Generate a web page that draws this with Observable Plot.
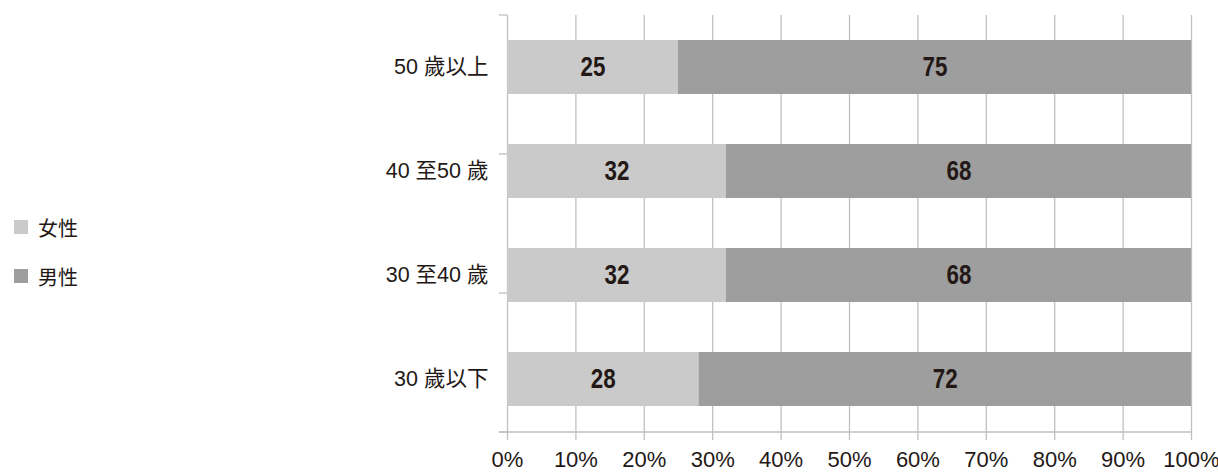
<!DOCTYPE html>
<html>
<head>
<meta charset="utf-8">
<script src="https://cdn.jsdelivr.net/npm/d3@7"></script>
<script src="https://cdn.jsdelivr.net/npm/@observablehq/plot@0.6"></script>
<style>
  html, body { margin: 0; padding: 0; background: #fff; }
  #wrap { position: relative; width: 1218px; height: 472px; }
  #legend { position: absolute; left: 14px; top: 213px; font-family: "Noto Sans CJK TC", sans-serif; font-size: 20px; color: #231815; }
  .item { display: flex; align-items: center; height: 28px; margin-bottom: 21px; }
  .sw { width: 14px; height: 14px; margin-right: 10px; }
</style>
</head>
<body>
<div id="wrap">
  <div id="legend"></div>
</div>
<script>
const ages = ["50 歲以上", "40 至50 歲", "30 至40 歲", "30 歲以下"];
const female = [25, 32, 32, 28];
const male = [75, 68, 68, 72];
const seriesNames = ["女性", "男性"];
const seriesColors = ["#c9cac9", "#9d9e9d"];
const xTicks = [0, 10, 20, 30, 40, 50, 60, 70, 80, 90, 100];

const rows = [];
ages.forEach((a, i) => {
  rows.push({age: a, sex: seriesNames[0], value: female[i]});
  rows.push({age: a, sex: seriesNames[1], value: male[i]});
});

const gridColor = "#c0c0c0";
const textColor = "#231815";
const mTop = 15, mBottom = 40, H = 472;

const plot = Plot.plot({
  width: 1218,
  height: H,
  marginLeft: 507,
  marginRight: 27,
  marginTop: mTop,
  marginBottom: mBottom,
  style: {fontFamily: "'Liberation Sans', 'Noto Sans CJK TC', sans-serif", color: textColor, background: "#fff", overflow: "visible"},
  x: {domain: [0, 100], ticks: xTicks, tickFormat: d => d + "%", label: null},
  y: {domain: ages, paddingInner: 0.48, paddingOuter: 0.24, label: null},
  color: {domain: seriesNames, range: seriesColors},
  marks: [
    Plot.ruleX(xTicks, {stroke: gridColor, strokeWidth: 1.3}),
    Plot.barX(rows, {x: "value", y: "age", fill: "sex", order: seriesNames}),
    Plot.text(rows, Plot.stackX({
      x: "value", y: "age", z: "sex", order: seriesNames, text: d => String(d.value),
      fill: textColor, fontSize: 28, fontWeight: "bold", className: "vlab",
      fontFamily: "'Liberation Sans', sans-serif"
    })),
    Plot.axisX({ticks: xTicks, tickFormat: d => d + "%", tickSize: 8, tickPadding: 11, fontSize: 22, stroke: gridColor, strokeWidth: 1.3, label: null}),
    Plot.axisY({tickSize: 0, tickPadding: 19, fontSize: 21.5, fontFamily: "'Liberation Sans', 'Noto Sans CJK TC', sans-serif", label: null})
  ]
});

document.getElementById("wrap").appendChild(plot);

const svg = d3.select(plot);
// condense the bold value labels horizontally
svg.selectAll(".vlab text").each(function() {
  const t = d3.select(this);
  const x = +t.attr("x") || 0, y = +t.attr("y") || 0;
  const prev = t.attr("transform") || "";
  t.attr("transform", `${prev} translate(${x},${y}) scale(0.8,1) translate(${-x},${-y})`);
});

// axis frame lines (baseline, y-axis small ticks)
const xs = plot.scale("x");
const x0 = xs.apply(0), x100 = xs.apply(100);
const yTop = mTop, yBot = H - mBottom;
const g = svg.append("g").attr("stroke", gridColor).attr("stroke-width", 1.3);
g.append("line").attr("x1", x0 - 8).attr("x2", x100).attr("y1", yBot).attr("y2", yBot);
const n = 3;
for (let k = 0; k <= n; k++) {
  const yy = yTop + (yBot - yTop) * k / n;
  g.append("line").attr("x1", x0 - 8).attr("x2", x0).attr("y1", yy).attr("y2", yy);
}

const legend = document.getElementById("legend");
seriesNames.forEach((s, i) => {
  const it = document.createElement("div");
  it.className = "item";
  it.innerHTML = `<div class="sw" style="background:${seriesColors[i]}"></div><span>${s}</span>`;
  legend.appendChild(it);
});
</script>
</body>
</html>
